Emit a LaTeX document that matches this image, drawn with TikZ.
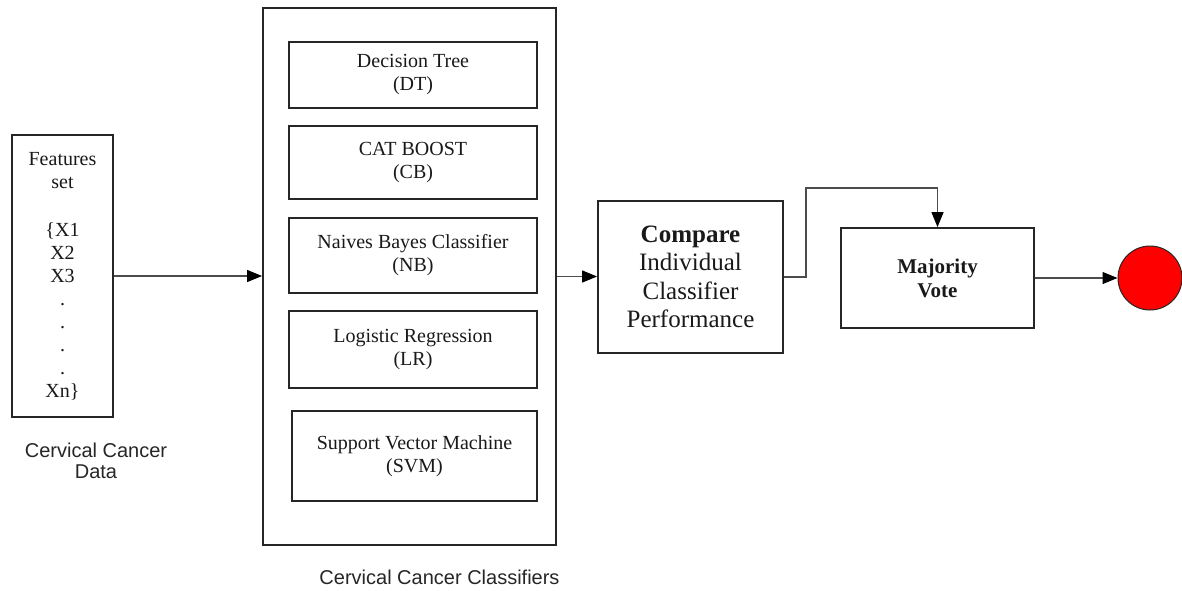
\documentclass[tikz,border=0pt]{standalone}
\usepackage{fontspec}
\setmainfont{Liberation Serif}
\newfontfamily\capfont{Liberation Sans}
\usetikzlibrary{arrows.meta}

\begin{document}
\begin{tikzpicture}[x=1pt, y=-1pt,
  blk/.style={draw=black!85, line width=1.8pt, inner sep=0pt, align=center, text=black!90,
    font=\fontsize{20}{23}\selectfont},
  wire/.style={draw=black!70, line width=1.1pt, -{Triangle[length=15pt,width=12pt,color=black]}},
  captxt/.style={align=center, text=black!85, font=\capfont\fontsize{20}{21}\selectfont}]
	%%%%% START %%%%%
	\useasboundingbox (0,0) rectangle (1182,590);
	
	% input data
	\node[blk, minimum width=101, minimum height=282] (feat) at (62.5,276)
	  {Features\\set\\[25pt]\{X1\\X2\\X3\\.\\.\\.\\.\\Xn\}};
	\node[captxt] (datalbl) at (96,461) {Cervical Cancer\\Data};
	
	% classifiers
	\node[blk, minimum width=293, minimum height=537] (outer) at (409.5,276.5) {};
	\node[blk, minimum width=248, minimum height=66] (dt) at (413,75) {Decision Tree\\(DT)};
	\node[blk, minimum width=248, minimum height=73] (cb) at (413,162.5) {CAT BOOST\\(CB)};
	\node[blk, minimum width=248, minimum height=75] (nb) at (413,255.5) {Naives Bayes Classifier\\(NB)};
	\node[blk, minimum width=248, minimum height=77] (lr) at (413,349.5) {Logistic Regression\\(LR)};
	\node[blk, minimum width=245, minimum height=90] (svm) at (414.5,456) {Support Vector Machine\\(SVM)};
	\node[captxt] (clslbl) at (439.5,577) {Cervical Cancer Classifiers};
	
	% comparison and vote
	\node[blk, minimum width=185, minimum height=152, font=\fontsize{25}{28.5}\selectfont] (cmp) at (690.5,277)
	  {\textbf{Compare}\\Individual\\Classifier\\Performance};
	\node[blk, minimum width=193, minimum height=100, font=\bfseries\fontsize{21}{24}\selectfont] (mv) at (937.5,278)
	  {Majority\\Vote};
	\node[circle, draw=black!85, line width=1pt, fill=red, inner sep=0pt, minimum size=64] (res) at (1150,278) {};
	
	% connectors
	\coordinate (bend) at (806,188);
	\draw[wire] (feat.east) -- (feat.east -| outer.west);
	\draw[wire] (outer.east) -- (outer.east -| cmp.west);
	\draw[wire] (cmp.east) -| (bend) -| (mv.north);
	\draw[wire] (mv.east) -- (res.west);
	%%%%% END %%%%%
\end{tikzpicture}
\end{document}
